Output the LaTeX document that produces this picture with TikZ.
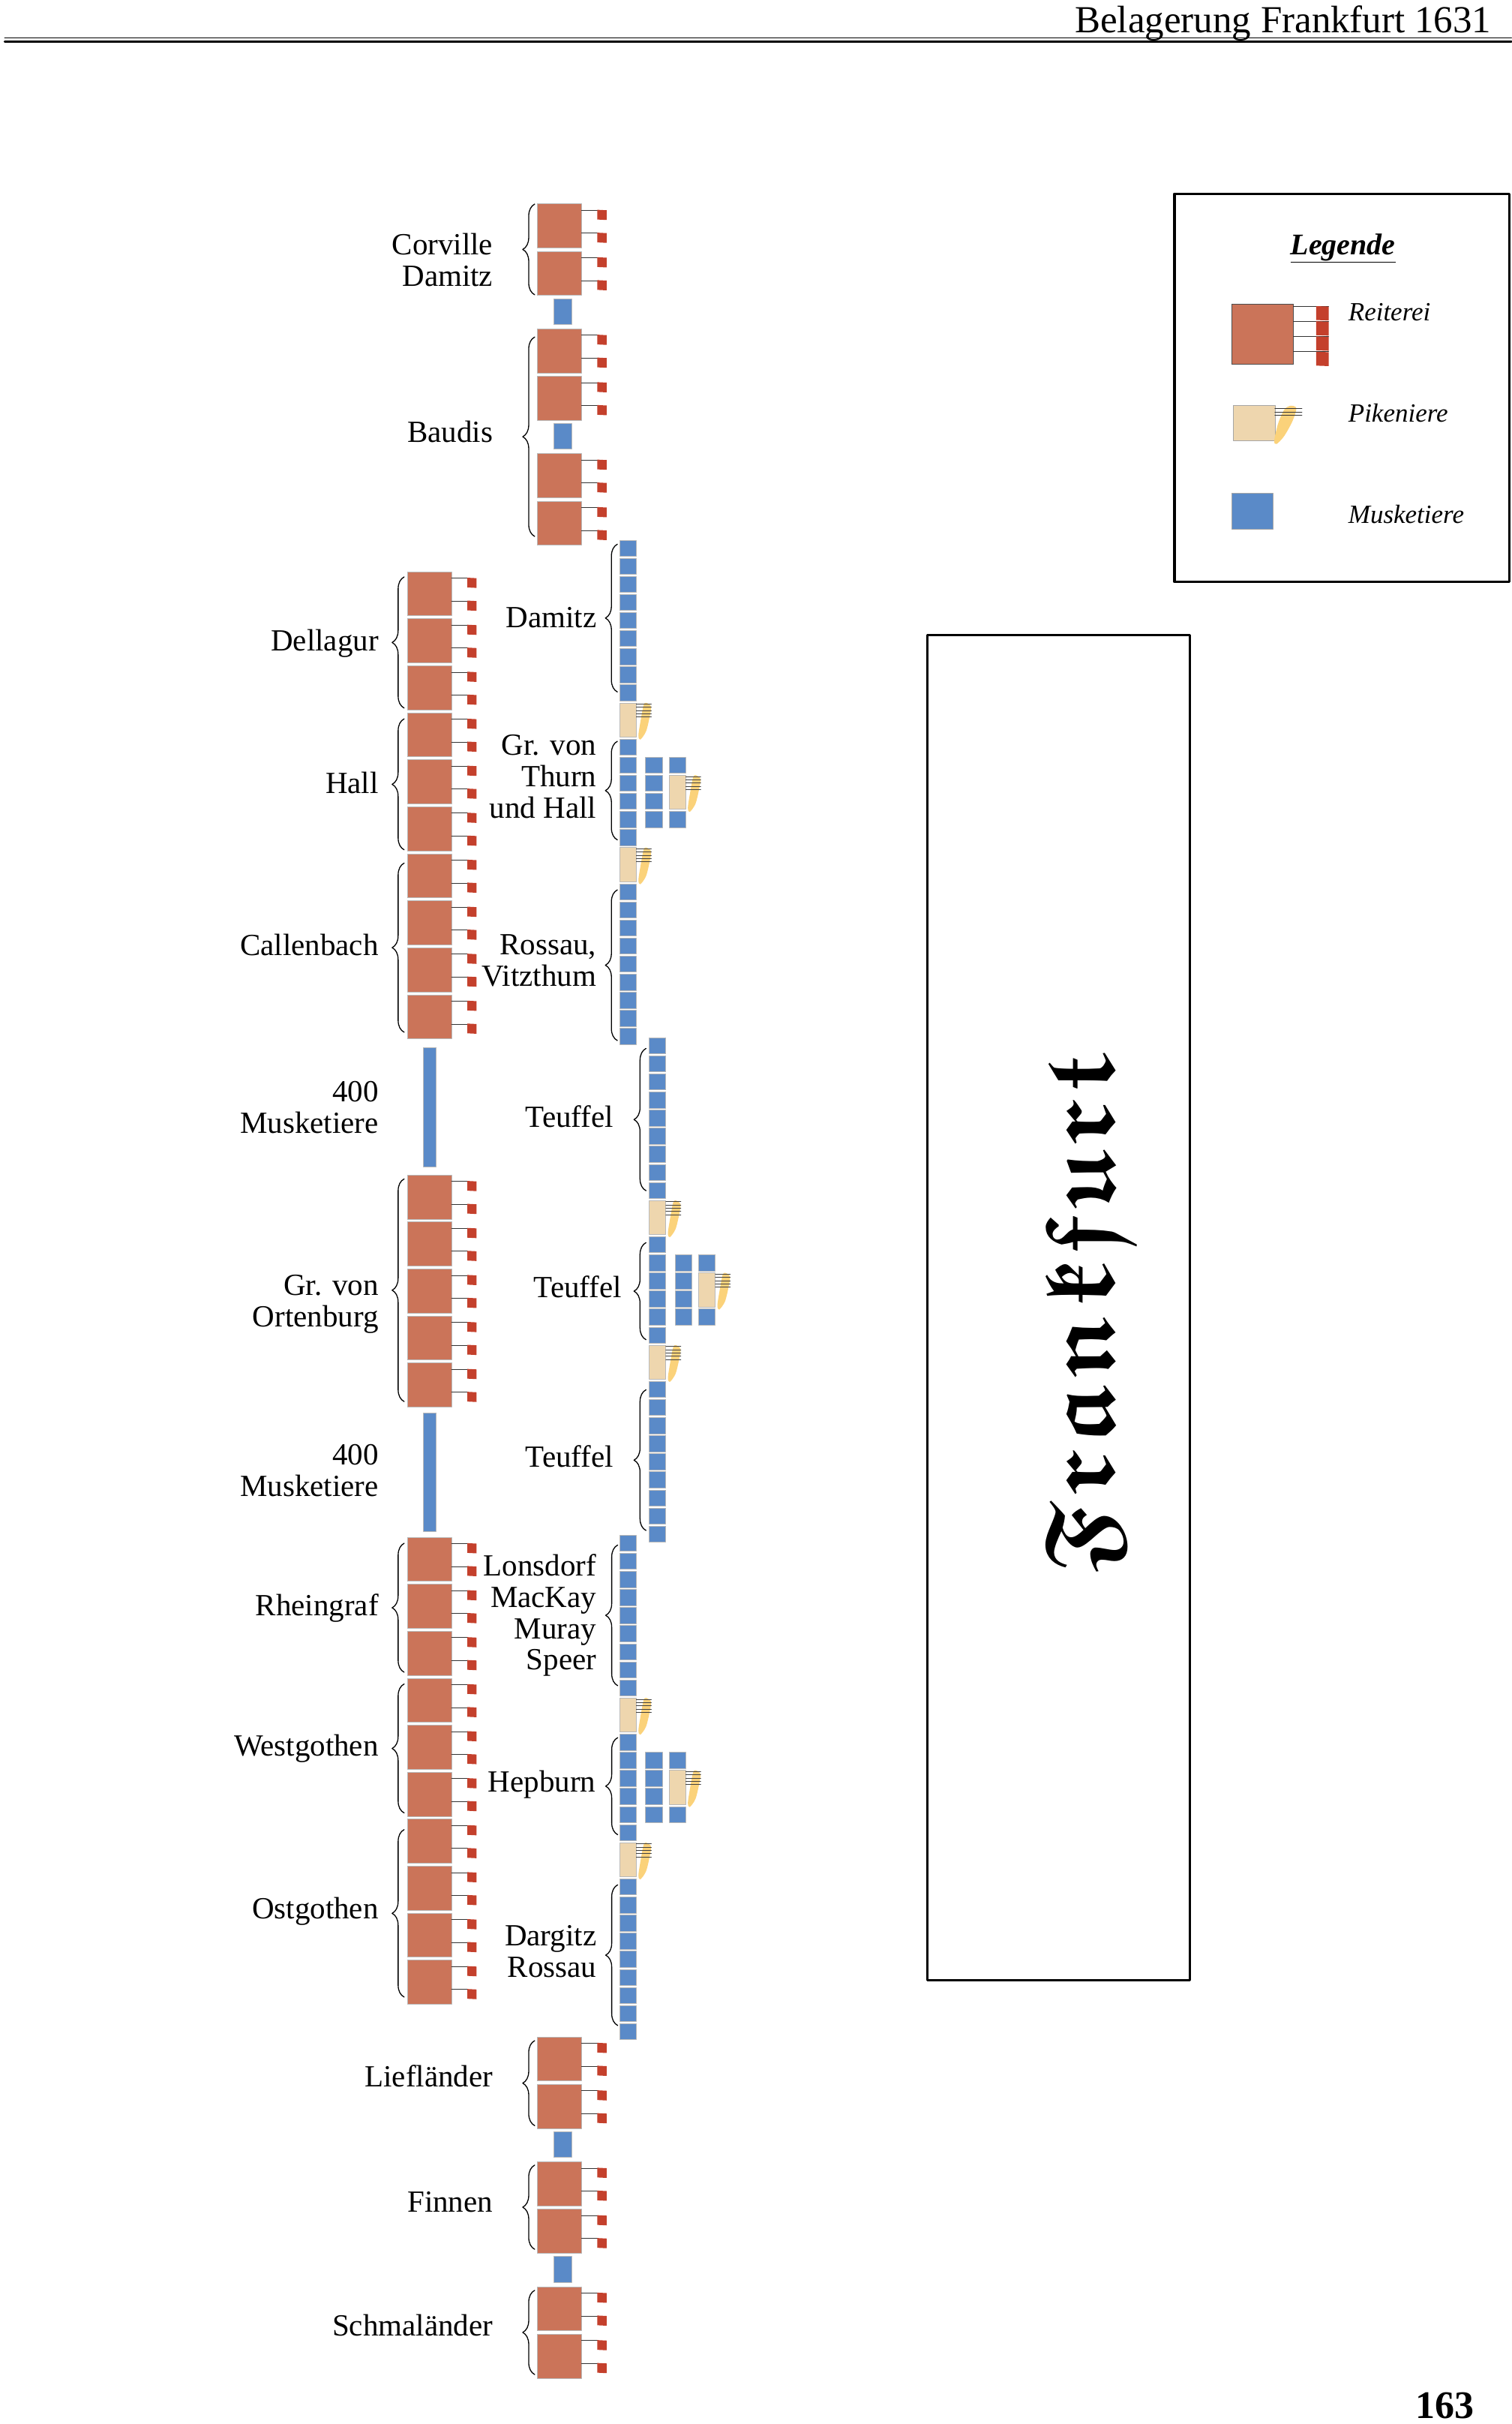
\documentclass[tikz,border=0pt]{standalone}
\usepackage{fontspec}
\setmainfont{Liberation Serif}
\usetikzlibrary{decorations.pathreplacing}

\definecolor{reiterrot}{HTML}{CB7459}
\definecolor{fahnenrot}{HTML}{C4402C}
\definecolor{musketblau}{HTML}{5A8AC8}
\definecolor{pikebeige}{HTML}{EED6AE}
\definecolor{federgelb}{HTML}{FBD27A}

\tikzset{
  einheit/.style={draw=gray!55,line width=0.5pt},
  klammer/.style={decorate,decoration={brace,amplitude=16pt},line width=1.3pt},
  beschriftung/.style={font=\fontsize{41}{41.8}\selectfont,align=right,anchor=base east,inner sep=0pt},
  legtext/.style={font=\fontsize{35}{36}\selectfont\itshape,anchor=base west,inner sep=0pt},
  % Reiterei: Schwadron mit zwei Fahnen
  reiter/.pic={
    \fill[reiterrot,einheit] (0,0) rectangle (28.6,28.5);
    \foreach \f in {4.2,19}{
      \draw[line width=0.8pt,black!80] (28.6,\f) -- (39,\f);
      \fill[fahnenrot] (38.8,\f-0.3) -- (44.8,\f) -- (44.8,\f+6.3) -- (38.8,\f+6) -- cycle;
    }
  },
  musket/.pic={\fill[musketblau,einheit] (0,0) rectangle (10.7,10.4);},
  pike/.pic={
    \fill[pikebeige,einheit] (0,0) rectangle (10.7,22.1);
    \fill[federgelb] plot[smooth cycle] coordinates {(17,0) (20.2,2.4) (19.4,8.9) (17,18.6) (13.3,23.8) (12.1,21) (13.7,10.5) (15.4,1.6)};
    \foreach \l in {0.8,2.9,5,7.1,9.2}
      \draw[line width=0.5pt,black!75] (10.7,\l) -- (20.5,\l);
  },
  % Brigade: 28 Plaetze, Pikeniere in der Mitte
  brigade/.pic={
    \foreach \a/\b in {0/8,11/16,19/27}
      \foreach \s in {\a,...,\b}
        \pic at (0,\s*11.7) {musket};
    \pic at (0,9*11.7) {pike};
    \pic at (0,17*11.7) {pike};
    \foreach \s in {12,...,15}
      \pic at (16.7,\s*11.7) {musket};
    \pic at (32,12*11.7) {musket};
    \pic at (32,13*11.7) {pike};
    \pic at (32,15*11.7) {musket};
  },
}

\begin{document}
\begin{tikzpicture}[x=2.0613pt,y=-2.0613pt,line join=round,line cap=round]
\useasboundingbox (0,0) rectangle (978,1568);

% Kopfzeile und Seitenzahl
\node[anchor=base east,inner sep=0pt,font=\fontsize{51}{52}\selectfont] (kopf) at (965,21) {Belagerung Frankfurt 1631};
\draw[line width=1pt] (3,24.3) -- (978,24.3);
\draw[line width=2.6pt] (3,26.8) -- (978,26.8);
\node[anchor=base east,inner sep=0pt,font=\fontsize{52}{52}\selectfont\bfseries] (seite) at (954,1564.5) {163};

% Legende
\draw[line width=3.3pt] (760,125.3) rectangle (976.6,376.3);
\node[anchor=base,inner sep=0pt,font=\fontsize{40}{40}\selectfont\bfseries\itshape] (legende) at (869,164.7) {\underline{Legende}};
\fill[reiterrot,draw=black!70,line width=0.6pt] (797,196.7) rectangle (836.9,235.7);
\foreach \f in {198,207.8,217.6,227.5}{
  \draw[line width=0.8pt,black!80] (836.9,\f) -- (859.7,\f);
  \fill[fahnenrot] (851.6,\f) -- (859.7,\f+0.3) -- (859.7,\f+9.3) -- (851.6,\f+9) -- cycle;
}
\fill[pikebeige,draw=gray!70,line width=0.6pt] (798.2,262) rectangle (824.9,284.9);
\fill[federgelb] plot[smooth cycle] coordinates {(835,262.5) (838.8,264) (836.5,272) (831,282) (826,287.2) (824.5,285) (827,274) (831,265)};
\foreach \l in {264,266.4,268.8}
  \draw[line width=0.8pt,black!80] (824.9,\l) -- (842.4,\l);
\fill[musketblau,draw=gray!70,line width=0.6pt] (797,319.2) rectangle (823.6,342.2);
\node[legtext] (lreiter) at (872.4,207.3) {Reiterei};
\node[legtext] (lpike) at (872.4,272.9) {Pikeniere};
\node[legtext] (lmusket) at (872.4,338.4) {Musketiere};

% Stadt
\draw[line width=3pt] (600,411) rectangle (770,1281);
\node[rotate=90,anchor=base,inner sep=0pt] (stadt) at (720.4,850) {\scalebox{5.3}{\fontsize{24.88}{25}\usefont{U}{euf}{b}{n}F\kern1.6pt r\kern1.6pt a\kern1.6pt n\kern1.6pt k\kern1.6pt f\kern1.6pt u\kern1.6pt r\kern1.6pt t}};

% Reiterei vorne und hinten
\foreach \y in {131.8,162.5,212.6,243.3,293.4,324.1,1317.5,1348.2,1398.3,1429,1479.1,1509.8}
  \pic at (347.7,\y) {reiter};
\foreach \y in {193.2,273.8,1378.8,1459.6}
  \fill[musketblau,einheit] (358.2,\y) rectangle (370,\y+16.7);

% linker Fluegel
\foreach \i in {0,...,9}
  \pic at (263.6,369.8+\i*30.4) {reiter};
\foreach \i in {0,...,4}
  \pic at (263.6,760+\i*30.4) {reiter};
\foreach \i in {0,...,9}
  \pic at (263.6,994.3+\i*30.4) {reiter};
\fill[musketblau,einheit] (273.8,677.7) rectangle (282.2,754.6);
\fill[musketblau,einheit] (273.8,913.8) rectangle (282.2,990.6);

% Brigaden
\pic at (401,349.3) {brigade};
\pic at (420.1,671.2) {brigade};
\pic at (401,993) {brigade};

% Klammern
\draw[klammer] (346,190.7) -- (346,132);
\draw[klammer] (346,347) -- (346,218);
\draw[klammer] (346,1375) -- (346,1320);
\draw[klammer] (346,1455) -- (346,1400.5);
\draw[klammer] (346,1536) -- (346,1481.5);
\draw[klammer] (261.5,458) -- (261.5,373.2);
\draw[klammer] (261.5,549.7) -- (261.5,465);
\draw[klammer] (261.5,667.7) -- (261.5,558.3);
\draw[klammer] (261.5,906.6) -- (261.5,762.6);
\draw[klammer] (261.5,1081.7) -- (261.5,998.3);
\draw[klammer] (261.5,1172.7) -- (261.5,1089.3);
\draw[klammer] (261.5,1291.8) -- (261.5,1183.5);
\draw[klammer] (399.5,447.6) -- (399.5,352);
\draw[klammer] (399.5,543.3) -- (399.5,479.5);
\draw[klammer] (399.5,673.1) -- (399.5,575.6);
\draw[klammer] (418,770.2) -- (418,678.2);
\draw[klammer] (418,866.6) -- (418,803.8);
\draw[klammer] (418,990) -- (418,899);
\draw[klammer] (399.7,1090.4) -- (399.7,999.4);
\draw[klammer] (399.7,1186.8) -- (399.7,1124);
\draw[klammer] (399.7,1310.2) -- (399.7,1219.2);

% Namen (Anker: Grundlinie der letzten Zeile)
\node[beschriftung] (corville) at (319,185) {Corville\\Damitz};
\node[beschriftung] (baudis) at (319,286) {Baudis};
\node[beschriftung] (liefl) at (319,1350) {Liefländer};
\node[beschriftung] (finnen) at (319,1431) {Finnen};
\node[beschriftung] (schmal) at (319,1511) {Schmaländer};
\node[beschriftung] (dellagur) at (245,421) {Dellagur};
\node[beschriftung] (hall) at (245,513) {Hall};
\node[beschriftung] (callenbach) at (245,618) {Callenbach};
\node[beschriftung] (musk1) at (245,733) {400\\Musketiere};
\node[beschriftung] (ortenburg) at (245,858) {Gr. von\\Ortenburg};
\node[beschriftung] (musk2) at (245,968) {400\\Musketiere};
\node[beschriftung] (rheingraf) at (245,1045) {Rheingraf};
\node[beschriftung] (westgothen) at (245,1136) {Westgothen};
\node[beschriftung] (ostgothen) at (245,1241) {Ostgothen};
\node[beschriftung] (damitz) at (386,406) {Damitz};
\node[beschriftung] (thurn) at (386,529.1) {Gr. von\\Thurn\\und Hall};
\node[beschriftung] (rossau) at (386,638) {Rossau,\\Vitzthum};
\node[beschriftung] (teuffela) at (397,729) {Teuffel};
\node[beschriftung] (teuffelb) at (402.3,839.5) {Teuffel};
\node[beschriftung] (teuffelc) at (397,948.9) {Teuffel};
\node[beschriftung] (lonsdorf) at (386,1080.2) {Lonsdorf\\MacKay\\Muray\\Speer};
\node[beschriftung] (hepburn) at (385.5,1159.3) {Hepburn};
\node[beschriftung] (dargitz) at (386,1278.8) {Dargitz\\Rossau};
\end{tikzpicture}
\end{document}
